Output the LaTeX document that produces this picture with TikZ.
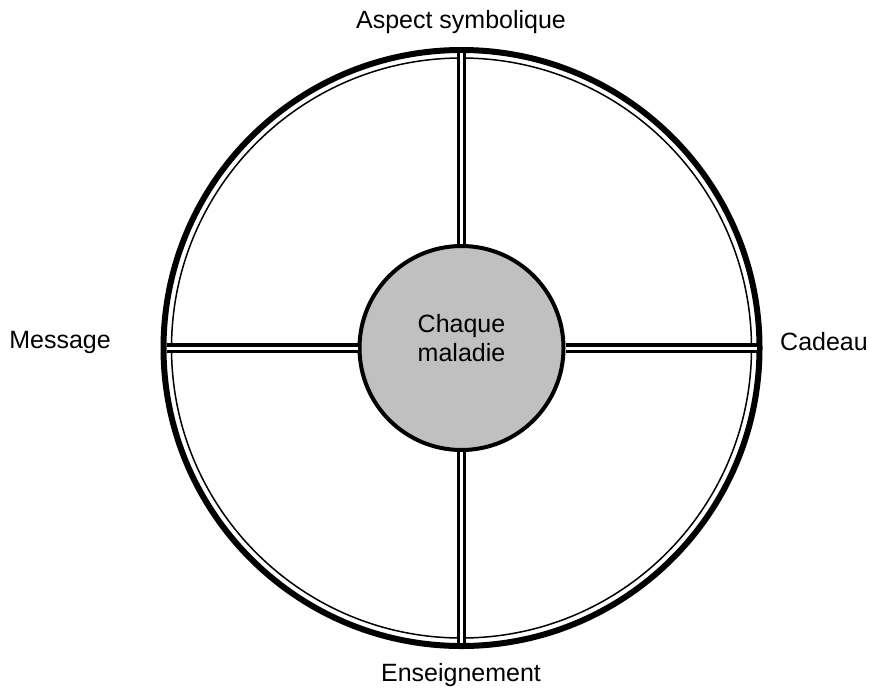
\documentclass[tikz,border=0pt]{standalone}
\usepackage{fontspec}
\setmainfont{Liberation Sans}
\usetikzlibrary{positioning, calc}
\definecolor{hubcolor}{RGB}{192,192,192}

\begin{document}
\begin{tikzpicture}[
    x=1pt, y=-1pt,
    ring/.style={circle, draw, inner sep=0pt, outer sep=0pt},
    hub/.style={circle, draw, line width=4pt, fill=hubcolor, inner sep=0pt, outer sep=0pt, minimum size=204pt},
    spoke/.style={draw, line width=3.2pt, double=white, double distance=3pt, shorten >=3pt, shorten <=2pt},
    label/.style={align=center, font=\fontsize{25}{29}\selectfont}
]
\useasboundingbox (0,0) rectangle (869,694);

\node[ring, line width=6pt, minimum size=596pt] (outer) at (461.5,348) {};
\node[ring, line width=1.5pt, minimum size=580pt] (inner) at (outer.center) {};
\node[hub] (hub) at (outer.center) {};
\node[label, yshift=10pt] (hubtext) at (hub.center) {Chaque\\maladie};

\draw[spoke] (hub.north) -- (outer.north);
\draw[spoke] (hub.south) -- (outer.south);
\draw[spoke] (hub.west) -- (outer.west);
\draw[spoke] (hub.east) -- (outer.east);

\node[label] (top) at (461,22) {Aspect symbolique};
\node[label] (bottom) at (461,675) {Enseignement};
\node[label] (left) at (60,342) {Message};
\node[label] (right) at (824,342) {Cadeau};

\end{tikzpicture}
\end{document}
